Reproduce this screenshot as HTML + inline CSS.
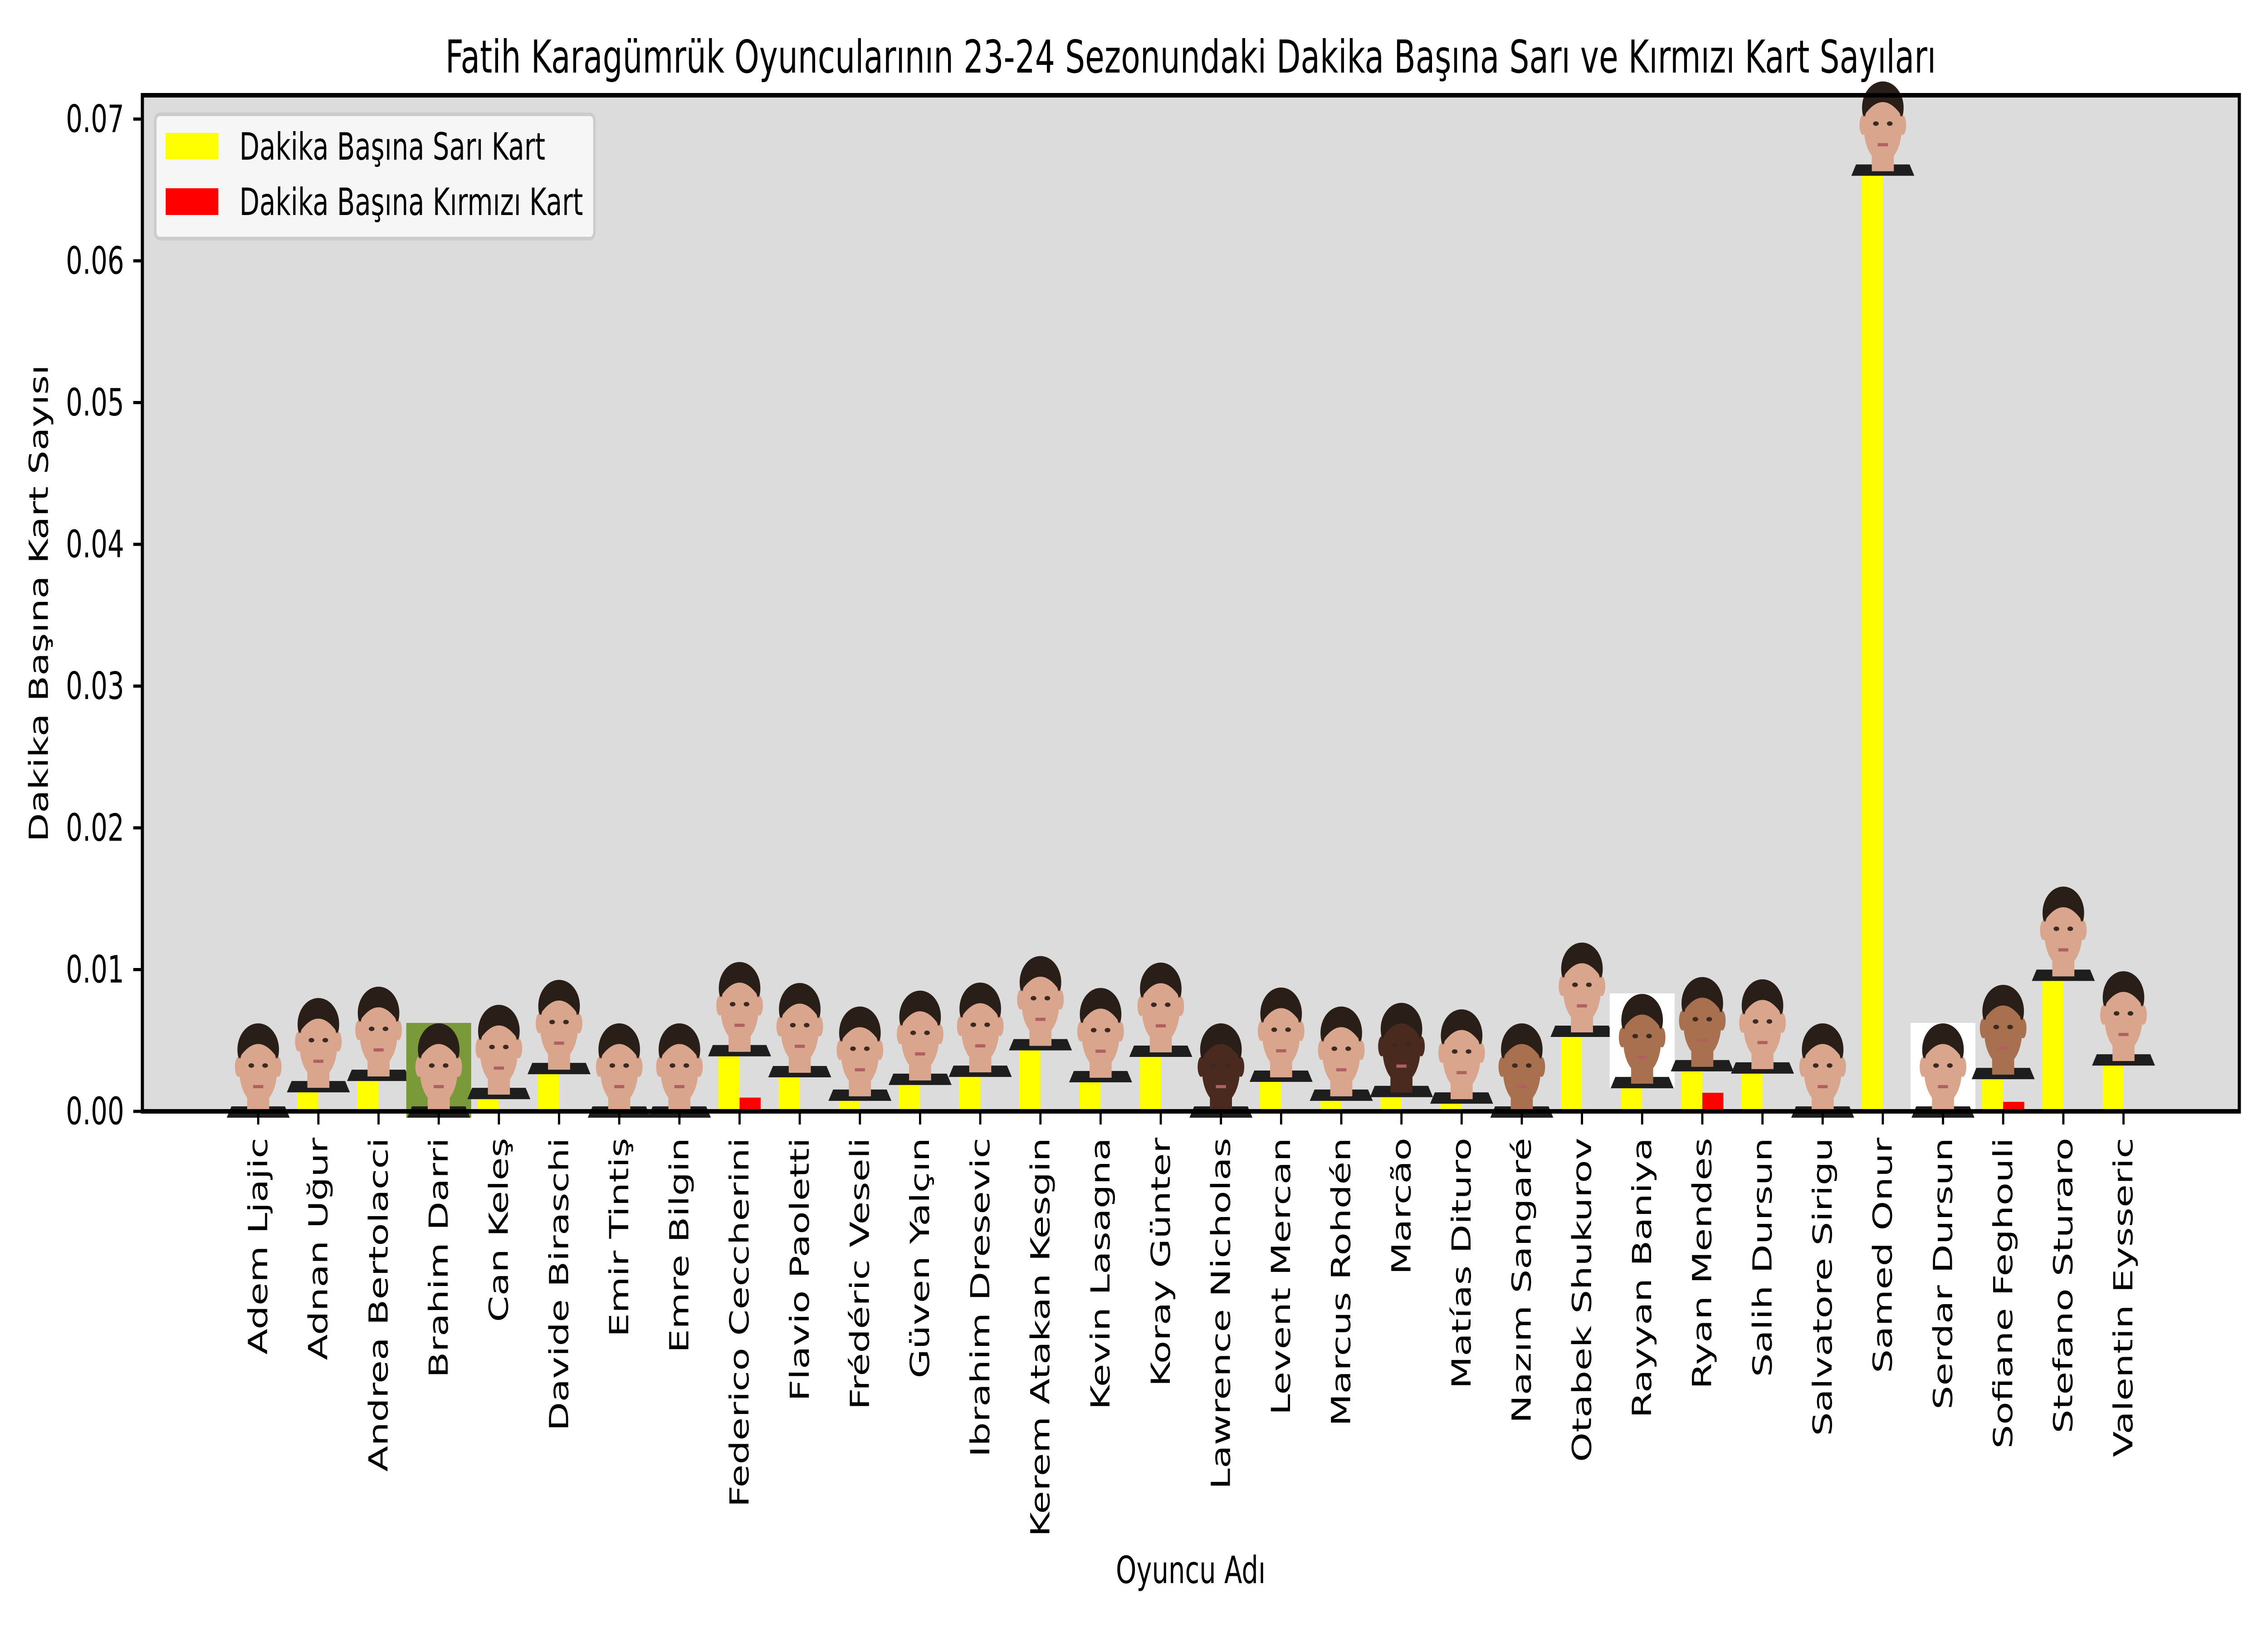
<!DOCTYPE html>
<html><head><meta charset="utf-8">
<style>html,body{margin:0;padding:0;background:#fff;overflow:hidden;width:100%;height:100%;}svg{display:block;width:100vw;height:100vh;}</style>
</head><body>
<svg id="chart" xmlns="http://www.w3.org/2000/svg" viewBox="0 0 7200 3600" preserveAspectRatio="none" font-family="'DejaVu Sans','Liberation Sans',sans-serif">
<rect width="7200" height="3600" fill="#fff"/>
<rect x="452" y="210" width="6657" height="2240" fill="#dcdcdc"/>
<g id="bars"></g>
<g id="faces"></g>
<rect x="452" y="210" width="6657" height="2240" fill="none" stroke="#000" stroke-width="10"/>
<g id="yaxis"></g>
<g id="xaxis"></g>
<text x="3780" y="160" font-size="100" text-anchor="middle">Fatih Karagümrük Oyuncularının 23-24 Sezonundaki Dakika Başına Sarı ve Kırmızı Kart Sayıları</text>
<text x="3780" y="3490" font-size="83" text-anchor="middle">Oyuncu Adı</text>
<text transform="translate(152,1330) rotate(-90)" font-size="83" text-anchor="middle">Dakika Başına Kart Sayısı</text>
<g>
<rect x="493" y="252" width="1394" height="274" rx="14" fill="#f6f6f6" stroke="#cccccc" stroke-width="8"/>
<rect x="526" y="293" width="167" height="58" fill="#ffff00"/>
<text x="760" y="352" font-size="83">Dakika Başına Sarı Kart</text>
<rect x="526" y="415" width="167" height="59" fill="#ff0000"/>
<text x="760" y="474" font-size="83">Dakika Başına Kırmızı Kart</text>
</g>
</svg>
<script>
const players = ["Adem Ljajic","Adnan Uğur","Andrea Bertolacci","Brahim Darri","Can Keleş","Davide Biraschi","Emir Tintiş","Emre Bilgin","Federico Ceccherini","Flavio Paoletti","Frédéric Veseli","Güven Yalçın","Ibrahim Dresevic","Kerem Atakan Kesgin","Kevin Lasagna","Koray Günter","Lawrence Nicholas","Levent Mercan","Marcus Rohdén","Marcão","Matías Dituro","Nazım Sangaré","Otabek Shukurov","Rayyan Baniya","Ryan Mendes","Salih Dursun","Salvatore Sirigu","Samed Onur","Serdar Dursun","Sofiane Feghouli","Stefano Sturaro","Valentin Eysseric"];
const yellowPerMin = [0,0.00134,0.00214,0,0.00086,0.00262,0,0,0.00388,0.0024,0.00074,0.00186,0.00243,0.0043,0.00205,0.00384,0,0.00208,0.00074,0.001,0.00054,0,0.00525,0.00163,0.00282,0.00266,0,0.066,0,0.00227,0.0092,0.00323];
const redPerMin = [0,0,0,0,0,0,0,0,0.00097,0,0,0,0,0,0,0,0,0,0,0,0,0,0,0,0.00131,0,0,0,0,0.00067,0,0];
const yTicks = [0,0.01,0.02,0.03,0.04,0.05,0.06,0.07];
const yTickLabels = ["0.00","0.01","0.02","0.03","0.04","0.05","0.06","0.07"];

const NS="http://www.w3.org/2000/svg";
const X0=452, X1=7109, Y0=2450, Y1=210;
const xMin=-1.925, xMax=32.925, yMax=0.07168;
const xs = v => X0 + (v - xMin) / (xMax - xMin) * (X1 - X0);
const ys = v => Y0 - v / yMax * (Y0 - Y1);
const BW = 0.35;
function mk(tag, attrs, parent){const e=document.createElementNS(NS,tag);for(const k in attrs)e.setAttribute(k,attrs[k]);parent.appendChild(e);return e;}

const bars=document.getElementById('bars');
const faces=document.getElementById('faces');
const xaxis=document.getElementById('xaxis');
const yaxis=document.getElementById('yaxis');

const dark=[16,19];
const mid=[21,24,29,23];
const whiteBg=[23,28];
players.forEach((p,i)=>{
  const yb = mk('rect',{x:xs(i-BW),y:ys(yellowPerMin[i]),width:xs(i)-xs(i-BW),height:Y0-ys(yellowPerMin[i]),fill:'#ffff00'},bars);
  
  
  if(redPerMin[i]>0){
    const rb = mk('rect',{x:xs(i),y:ys(redPerMin[i]),width:xs(i+BW)-xs(i),height:Y0-ys(redPerMin[i]),fill:'#ff0000'},bars);
    
    
  }
  const top = Math.max(yellowPerMin[i],redPerMin[i]);
  const cx = xs(i);
  const b = top>0 ? ys(yellowPerMin[i]) : Y0+14;
  const g = mk('g',{},faces);
  
  
  if(i===3) mk('rect',{x:cx-103,y:b-209,width:206,height:209,fill:'#7a9a3a'},g);
  else if(whiteBg.includes(i)) mk('rect',{x:cx-103,y:b-209,width:206,height:209,fill:'#ffffff'},g);
  let skin='#d9a58c'; if(dark.includes(i)) skin='#4a2a1e'; else if(mid.includes(i)) skin='#a8704f';
  mk('path',{d:`M${cx-100},${b} L${cx-85},${b-25} L${cx+85},${b-25} L${cx+100},${b} Z`,fill:'#1e1e1e'},g);
  mk('rect',{x:cx-35,y:b-60,width:70,height:50,fill:skin},g);
  mk('ellipse',{cx:cx,cy:b-150,rx:66,ry:58,fill:'#2a1e18'},g);
  mk('ellipse',{cx:cx-63,cy:b-112,rx:11,ry:22,fill:skin},g);
  mk('ellipse',{cx:cx+63,cy:b-112,rx:11,ry:22,fill:skin},g);
  mk('ellipse',{cx:cx,cy:b-105,rx:60,ry:75,fill:skin},g);
  mk('path',{d:`M${cx-62},${b-130} Q${cx},${b-195} ${cx+62},${b-130} L${cx+64},${b-155} Q${cx},${b-225} ${cx-64},${b-155} Z`,fill:'#2a1e18'},g);
  mk('ellipse',{cx:cx-22,cy:b-115,rx:9,ry:5,fill:'#3a2a22'},g);
  mk('ellipse',{cx:cx+22,cy:b-115,rx:9,ry:5,fill:'#3a2a22'},g);
  mk('rect',{x:cx-16,y:b-72,width:32,height:7,fill:'#b06060'},g);
  const t = mk('line',{x1:cx,y1:Y0,x2:cx,y2:Y0+29,stroke:'#000','stroke-width':7},xaxis);
  
  
  const lbl = mk('text',{transform:`translate(${cx},2508) rotate(-90)`,'font-size':83,'text-anchor':'end','dominant-baseline':'central'},xaxis);
  lbl.textContent=p;
  
  
});
yTicks.forEach((v,k)=>{
  const t = mk('line',{x1:X0-29,y1:ys(v),x2:X0,y2:ys(v),stroke:'#000','stroke-width':7},yaxis);
  
  
  const l = mk('text',{x:X0-58,y:ys(v),'font-size':83,'text-anchor':'end','dominant-baseline':'central'},yaxis);
  l.textContent=yTickLabels[k];
  
  
});
</script>
</body></html>
